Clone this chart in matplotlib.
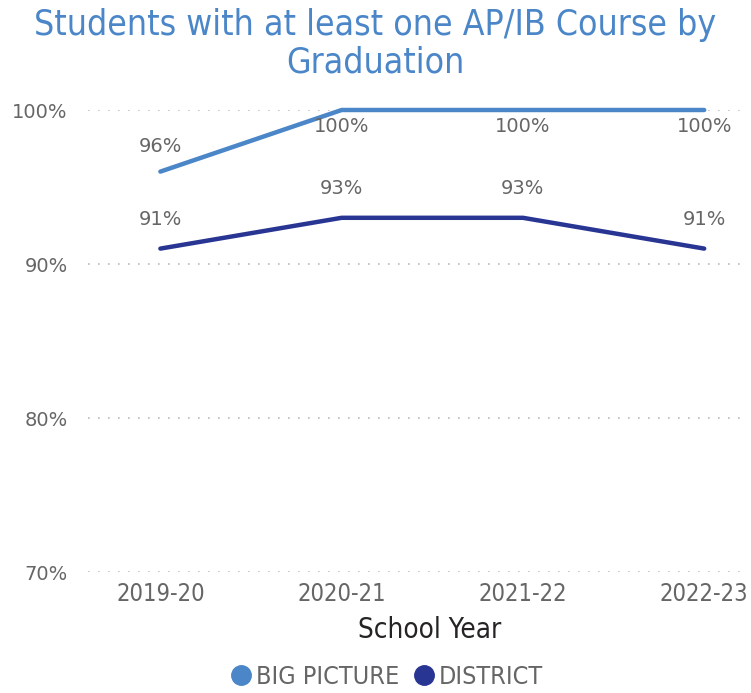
import matplotlib
matplotlib.use("Agg")
import matplotlib.pyplot as plt
from matplotlib.lines import Line2D
from matplotlib import font_manager

years = ["2019-20", "2020-21", "2021-22", "2022-23"]
big_picture = [96, 100, 100, 100]
district = [91, 93, 93, 91]
yticks = [70, 80, 90, 100]

c_bp = "#4a86c8"
c_di = "#283593"
gray = "#666666"
cond = dict(family="DejaVu Sans", stretch="condensed")

fig = plt.figure(figsize=(7.51, 6.93), dpi=100)
ax = fig.add_axes([0.117, 1 - 572/693, 0.875, (572 - 110)/693])
x = list(range(len(years)))
ax.plot(x, big_picture, color=c_bp, lw=3.2, solid_capstyle="round", clip_on=False, zorder=3)
ax.plot(x, district, color=c_di, lw=3.2, solid_capstyle="round", clip_on=False, zorder=3)
ax.set_xlim(-0.4, 3.225)
ax.set_ylim(70, 100)

for i, v in enumerate(big_picture):
    if v >= 100:
        ax.annotate(f"{v}%", (i, v), xytext=(0, -5), textcoords="offset points",
                    ha="center", va="top", fontsize=14, color=gray)
    else:
        ax.annotate(f"{v}%", (i, v), xytext=(0, 11), textcoords="offset points",
                    ha="center", va="bottom", fontsize=14, color=gray)
for i, v in enumerate(district):
    ax.annotate(f"{v}%", (i, v), xytext=(0, 14), textcoords="offset points",
                ha="center", va="bottom", fontsize=14, color=gray)

ax.set_yticks(yticks)
ax.set_yticklabels([f"{t}%" for t in yticks], fontsize=14, color=gray)
ax.set_xticks(x)
ax.set_xticklabels(years, fontsize=17, color=gray, **cond)
ax.tick_params(length=0)
ax.tick_params(axis="x", pad=7)
ax.tick_params(axis="y", pad=14.5)
for s in ax.spines.values():
    s.set_visible(False)
ax.grid(axis="y", color="#bbbbbb", linestyle=(0, (1, 5)), lw=1.2)
ax.set_axisbelow(True)
ax.set_xlabel("School Year", fontsize=20, color="#252423", **cond)
ax.xaxis.set_label_coords((430 - 88) / (745 - 88), -(630 - 572) / 462)
ax.xaxis.label.set_va("center")

fig.text(0.5, 1 - 8/693, "Students with at least one AP/IB Course by\nGraduation",
         ha="center", va="top", fontsize=25.5, color=c_bp, linespacing=1.13, **cond)

handles = [Line2D([], [], marker="o", ls="", color=c_bp, markersize=14),
           Line2D([], [], marker="o", ls="", color=c_di, markersize=14)]
leg = fig.legend(handles, ["BIG PICTURE", "DISTRICT"], loc="center",
                 bbox_to_anchor=(387 / 751, 1 - 677/693),
                 ncol=2, frameon=False, handlelength=0.8, handletextpad=0.2,
                 columnspacing=0.56, borderpad=0,
                 labelcolor=gray, prop=font_manager.FontProperties(size=18, **cond))

fig.savefig("out.png", dpi=100)
